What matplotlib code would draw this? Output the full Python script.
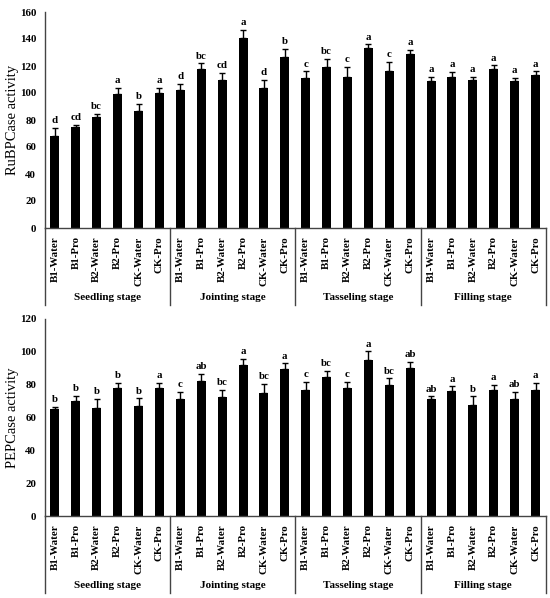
import matplotlib.pyplot as plt
import numpy as np

treatments = ['B1-Water', 'B1-Pro', 'B2-Water', 'B2-Pro', 'CK-Water', 'CK-Pro']
stages = ['Seedling stage', 'Jointing stage', 'Tasseling stage', 'Filling stage']

# RuBPCase, 24 bars (6 treatments x 4 stages)
rubp_mean = [68, 75, 82, 99, 87, 100,
             102, 118, 110, 141, 104, 127,
             111, 119, 112, 133, 116, 129,
             109, 112, 110, 118, 109, 113]
rubp_err = [6, 1.5, 2.5, 4.5, 5, 3.5,
            5, 4, 5, 6, 6, 5.5,
            5, 6, 7.5, 3, 7, 3,
            3, 3.5, 2, 2.5, 2, 3]
rubp_sig = ['d', 'cd', 'bc', 'a', 'b', 'a',
            'd', 'bc', 'cd', 'a', 'd', 'b',
            'c', 'bc', 'c', 'a', 'c', 'a',
            'a', 'a', 'a', 'a', 'a', 'a']

# PEPCase
pep_mean = [65, 70, 65.5, 78, 67, 78,
            71, 82, 72.5, 92, 75, 89.5,
            77, 84.5, 78, 95, 80, 90,
            71, 76, 67.5, 77, 71, 77]
pep_err = [1.6, 3.3, 6, 3, 4.7, 3.3,
           4.8, 4.8, 4.2, 3.6, 5.5, 3.4,
           4.5, 4, 3.5, 5.3, 3.8, 4,
           1.8, 3, 5.3, 2.7, 4.6, 4.1]
pep_sig = ['b', 'b', 'b', 'b', 'b', 'a',
           'c', 'ab', 'bc', 'a', 'bc', 'a',
           'c', 'bc', 'c', 'a', 'bc', 'ab',
           'ab', 'a', 'b', 'a', 'ab', 'a']

plt.rcParams['font.family'] = ['Liberation Serif', 'DejaVu Serif']

W, H = 550, 598
fig = plt.figure(figsize=(W / 100, H / 100), dpi=100)


def draw_panel(rect, mean, err, sig, ylabel, ymax, ystep):
    ax = fig.add_axes(rect)
    x = np.arange(len(mean))
    ax.bar(x, mean, width=0.43, color='black', zorder=2)
    ax.errorbar(x, mean, yerr=[np.zeros(len(err)), err], fmt='none',
                ecolor='black', elinewidth=1, capsize=2.5, capthick=1, zorder=3)
    for xi, m, e, s in zip(x, mean, err, sig):
        ax.annotate(s, (xi, m + e), xytext=(0, 2), textcoords='offset points',
                    ha='center', va='bottom', fontsize=7.8, fontweight='bold')
    ax.set_xlim(-0.5, len(mean) - 0.5)
    ax.set_ylim(0, ymax)
    ax.set_yticks(np.arange(0, ymax + 1, ystep))
    for lbl in ax.get_yticklabels():
        lbl.set_fontweight('bold')
    ax.tick_params(axis='y', length=0, pad=6, labelsize=7.8)
    ax.set_xticks(x)
    ax.set_xticklabels(treatments * len(stages), rotation=90, fontsize=7.8,
                       fontweight='bold', va='top')
    ax.tick_params(axis='x', length=0, pad=6)
    ax.set_ylabel(ylabel, fontsize=10.5)
    ax.yaxis.set_label_coords(-25 / (rect[2] * W), 0.5)
    for side in ['top', 'right']:
        ax.spines[side].set_visible(False)
    for side in ['left', 'bottom']:
        ax.spines[side].set_color('#444444')
        ax.spines[side].set_linewidth(1)

    # stage boxes below the axis
    ax_h = rect[3] * H
    depth = -77 / ax_h
    trans = ax.get_xaxis_transform()
    for k in range(len(stages) + 1):
        xs = k * 6 - 0.5
        ax.plot([xs, xs], [0, depth], transform=trans, color='#444444',
                lw=1, clip_on=False)
    for k, st in enumerate(stages):
        ax.text(k * 6 + 2.5, -69 / ax_h, st, transform=trans, ha='center',
                va='center', fontsize=8, fontweight='bold')
    return ax


draw_panel([44.5 / W, 1 - 228 / H, 501.5 / W, 216 / H],
           rubp_mean, rubp_err, rubp_sig, 'RuBPCase activity', 160, 20)
draw_panel([44.5 / W, 1 - 516 / H, 501.5 / W, 197 / H],
           pep_mean, pep_err, pep_sig, 'PEPCase activity', 120, 20)

fig.savefig('out.png', dpi=100)
